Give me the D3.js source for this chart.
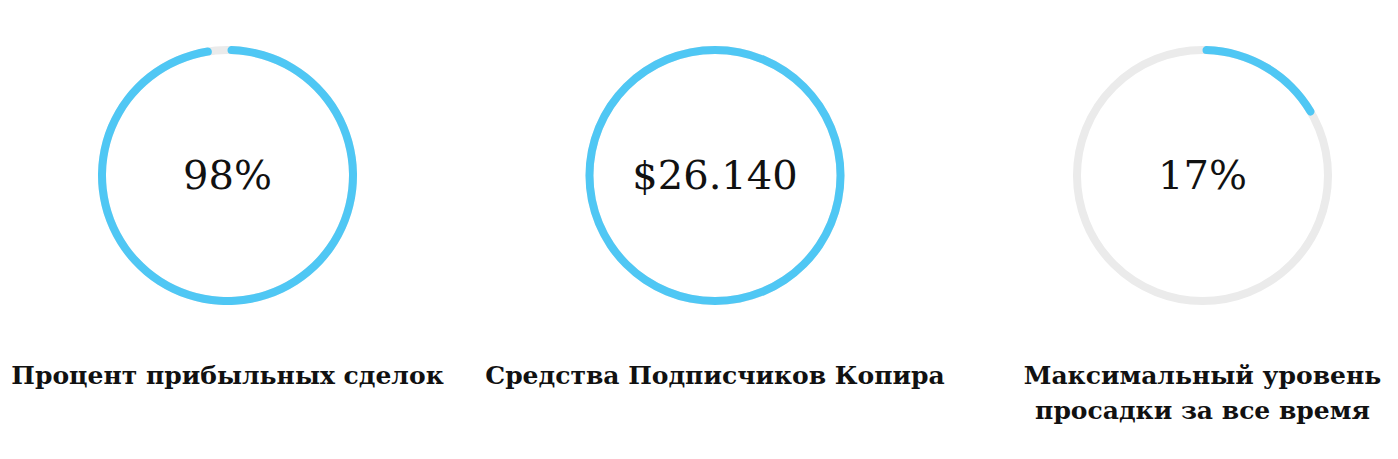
<!DOCTYPE html>
<html>
<head>
<meta charset="utf-8">
<script src="https://cdn.jsdelivr.net/npm/d3@7"></script>
<style>
  html, body { margin: 0; padding: 0; background: #fff; }
  svg text { font-family: 'DejaVu Serif', serif; fill: #111; }
</style>
</head>
<body>
<div id="graph"></div>
<script>
// Chart data
var valueList   = [ 98, 100, 17 ];
var centerTexts = [ '98%', '$26.140', '17%' ];
var captions    = [ [ 'Процент прибыльных сделок' ],
                    [ 'Средства Подписчиков Копира' ],
                    [ 'Максимальный уровень', 'просадки за все время' ] ];

function D3App ()
{
    var width  = 1398;
    var height = 459;

    var svg = d3.select ('#graph')
                .append ('svg')
                .attr ('width', width)
                .attr ('height', height);

    // one column per gauge
    var xScale = d3.scalePoint ()
                   .domain ( d3.range (valueList.length) )
                   .range ( [ 227.5, 1202.5 ] );

    var angleScale = d3.scaleLinear ()
                       .domain ( [ 0, 100 ] )
                       .range ( [ 0, 2 * Math.PI ] );

    var radius = 125.5;
    var ringW  = 8;
    var cy     = 175.5;

    var arc = d3.arc ()
                .innerRadius (radius - ringW / 2)
                .outerRadius (radius + ringW / 2)
                .cornerRadius (ringW / 2)
                .startAngle (0);

    var gauge = svg.selectAll ('.gauge')
                   .data (valueList)
                   .enter ()
                   .append ('g')
                   .attr ('class', 'gauge')
                   .attr ('transform', function (d, i) { return 'translate(' + xScale (i) + ',' + cy + ')'; });

    // grey track
    gauge.append ('circle')
         .attr ('r', radius)
         .style ('fill', 'none')
         .style ('stroke', '#ebebeb')
         .style ('stroke-width', ringW);

    // blue value arc
    gauge.append ('path')
         .attr ('d', function (d) { return arc.endAngle (angleScale (d)) (); })
         .style ('fill', '#4fc7f4');

    gauge.append ('text')
         .attr ('text-anchor', 'middle')
         .attr ('y', 13)
         .style ('font-size', '40px')
         .text (function (d, i) { return centerTexts[i]; });

    // captions below
    svg.selectAll ('.caption')
       .data (captions)
       .enter ()
       .append ('text')
       .attr ('class', 'caption')
       .attr ('text-anchor', 'middle')
       .attr ('transform', function (d, i) { return 'translate(' + xScale (i) + ',384)'; })
       .style ('font-size', '25px')
       .style ('font-weight', 'bold')
       .selectAll ('tspan')
       .data (function (d) { return d; })
       .enter ()
       .append ('tspan')
       .attr ('x', 0)
       .attr ('y', function (d, j) { return j * 35; })
       .text (function (d) { return d; });
}

D3App ();
</script>
</body>
</html>
